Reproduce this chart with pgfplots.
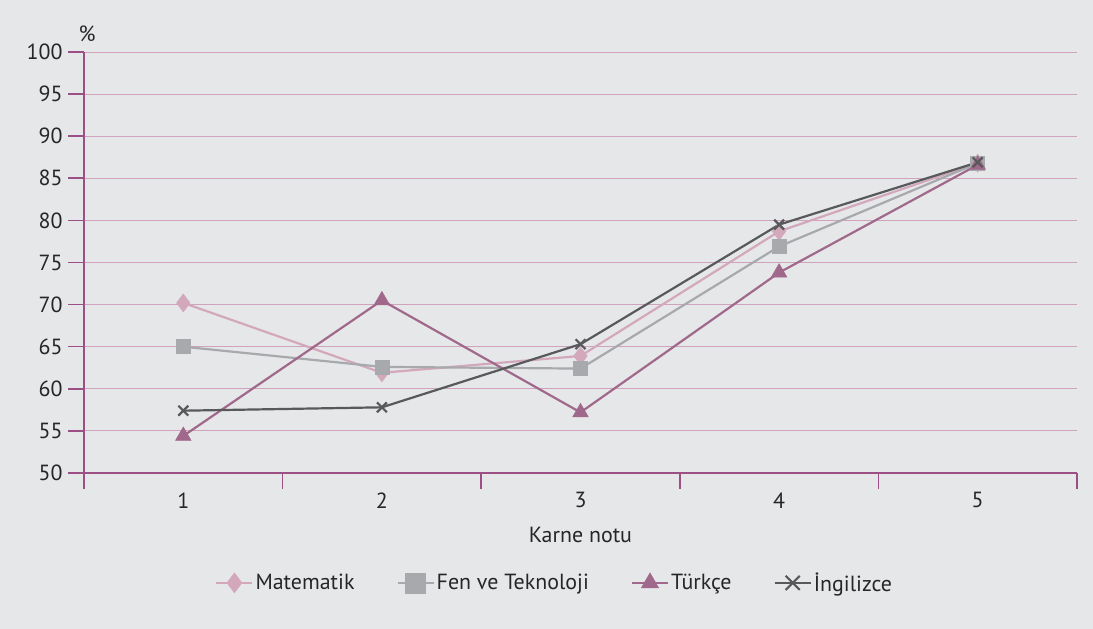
\documentclass[border=0pt]{standalone}
\usepackage{pgfplots}
\pgfplotsset{compat=1.18}
\usepackage{fontspec}
\setmainfont{PT Sans}
\definecolor{bgc}{HTML}{E6E7E9}
\definecolor{axc}{HTML}{9B4F85}
\definecolor{grc}{HTML}{CFA3BC}
\definecolor{mat}{HTML}{D3A8BB}
\definecolor{fen}{HTML}{A7A9AC}
\definecolor{tur}{HTML}{A0688B}
\definecolor{ing}{HTML}{58595B}
\begin{document}
\begin{tikzpicture}
\fill[bgc] (0,0) rectangle (1093bp,629bp);
\begin{axis}[
  at={(84bp,156bp)}, anchor=south west,
  scale only axis, width=993bp, height=421bp,
  xmin=0.5, xmax=5.5, ymin=50, ymax=100,
  axis x line=bottom, axis y line=left,
  axis line style={axc, line width=1.6bp, -},
  xtick={0.5,1.5,2.5,3.5,4.5,5.5}, x tick label as interval,
  xticklabels={1,2,3,4,5},
  ytick={50,55,...,100},
  ymajorgrids, grid style={grc, line width=0.8bp},
  xtick style={draw=axc, line width=1.6bp},
  ytick style={draw=none},
  major tick length=16bp, xtick align=outside, ytick align=outside,
  /pgf/number format/assume math mode=true,
  ticklabel style={font=\fontsize{22}{26}\selectfont, text=black!85},
  yticklabel style={xshift=-2bp},
  xlabel={Karne notu}, xlabel style={font=\fontsize{22}{26}\selectfont, at={(axis description cs:0.5,-0.147)}, anchor=center, text=black!85},
  legend columns=4,
  legend style={draw=none, fill=none, at={(0.474,-0.261)}, anchor=center, font=\fontsize{22}{26}\selectfont, text=black!85, /tikz/every even column/.append style={column sep=40bp}},
  legend image code/.code={\draw[#1] (0bp,0bp) -- (36bp,0bp); \draw[#1, mark repeat=2, mark phase=2, mark size=10bp] plot coordinates {(0bp,0bp) (18bp,0bp) (36bp,0bp)};},
  clip=false,
]
\addplot[mat, line width=2.2bp, mark=diamond*, mark size=9bp, mark options={solid, fill=mat, draw=mat, line width=0.5bp}] coordinates {(1,70.2) (2,61.9) (3,63.9) (4,78.7) (5,86.8)};
\addlegendentry{Matematik}
\addplot[fen, line width=2.2bp, mark=square*, mark size=7bp, mark options={solid, fill=fen, draw=fen, line width=0.5bp}] coordinates {(1,65.0) (2,62.6) (3,62.4) (4,76.9) (5,86.8)};
\addlegendentry{Fen ve Teknoloji}
\addplot[tur, line width=2.2bp, mark=triangle*, mark size=9bp, mark options={solid, fill=tur, draw=tur, line width=0.5bp}] coordinates {(1,54.4) (2,70.5) (3,57.2) (4,73.8) (5,86.6)};
\addlegendentry{Türkçe}
\addplot[ing, line width=2.2bp, mark=x, mark size=7bp, mark options={solid, draw=ing, line width=2.2bp}] coordinates {(1,57.4) (2,57.8) (3,65.3) (4,79.5) (5,86.9)};
\addlegendentry{İngilizce}
\pgfplotsinvokeforeach{50,55,...,100}{\draw[axc, line width=1.6bp] (axis cs:0.5,#1) -- ++(-16bp,0bp);}
\node[font=\fontsize{22}{26}\selectfont, text=black!85, anchor=base west] at (rel axis cs:0,1) [xshift=-9bp, yshift=10bp] {\%};
\end{axis}
\end{tikzpicture}
\end{document}
